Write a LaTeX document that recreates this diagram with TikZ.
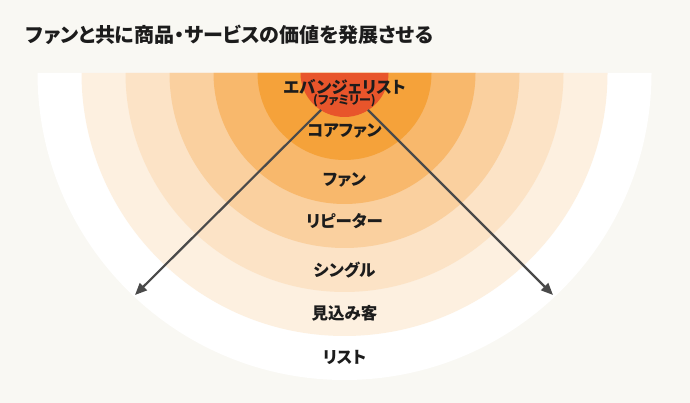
\documentclass[tikz,border=0pt]{standalone}
\usepackage{fontspec}
\newfontfamily\jp{Noto Sans CJK JP}[RawFeature={+palt}]
\usetikzlibrary{arrows.meta,calc}
\definecolor{bg}{HTML}{F9F8F3}
\definecolor{ringA}{HTML}{FFFFFF}
\definecolor{ringB}{HTML}{FDF0E0}
\definecolor{ringC}{HTML}{FCE3C6}
\definecolor{ringD}{HTML}{FAD09F}
\definecolor{ringE}{HTML}{F8B86C}
\definecolor{ringF}{HTML}{F5A23A}
\definecolor{ringG}{HTML}{E8552B}
\definecolor{txt}{HTML}{1C1C1C}
\definecolor{arr}{HTML}{4A4A4A}
\tikzset{
  lbl/.style={font=\jp\bfseries\fontsize{16.5}{16.5}\selectfont, text=txt, inner sep=0pt, anchor=center},
  sublbl/.style={font=\jp\bfseries\fontsize{12}{12}\selectfont, text=txt, inner sep=0pt, anchor=center},
  titlelbl/.style={font=\jp\bfseries\fontsize{20}{20}\selectfont, text=txt, inner sep=0pt, anchor=west},
  arrline/.style={draw=arr, line width=2.2pt, -{Triangle[length=12pt,width=10pt]}},
}
\begin{document}
\begin{tikzpicture}[x=1pt,y=1pt]
\useasboundingbox (0,0) rectangle (690,403);
\fill[bg] (0,0) rectangle (690,403);
\coordinate (c) at (344.5,330);
\foreach \r/\col in {307/ringA,263/ringB,219/ringC,175/ringD,131/ringE,87/ringF,44/ringG}{
  \fill[\col] ($(c)+(-\r,0)$) arc (180:360:\r) -- cycle;
}
\node[titlelbl] (title) at (26,368) {ファンと共に商品・サービスの価値を発展させる};
\node[lbl] (evan) at (344.5,316) {エバンジェリスト};
\node[sublbl] (fam) at (344.5,302) {(ファミリー)};
\node[lbl] (core) at (344.5,272) {コアファン};
\node[lbl] (fan) at (344.5,223) {ファン};
\node[lbl] (rep) at (344.5,182) {リピーター};
\node[lbl] (single) at (344.5,133) {シングル};
\node[lbl] (pros) at (344.5,90) {見込み客};
\node[lbl] (list) at (344.5,46) {リスト};
\coordinate (ls) at (321,293);
\coordinate (lt) at (135,108);
\coordinate (rs) at (368,293);
\coordinate (rt) at (553,108);
\draw[arrline] (ls) -- (lt);
\draw[arrline] (rs) -- (rt);
\end{tikzpicture}
\end{document}
